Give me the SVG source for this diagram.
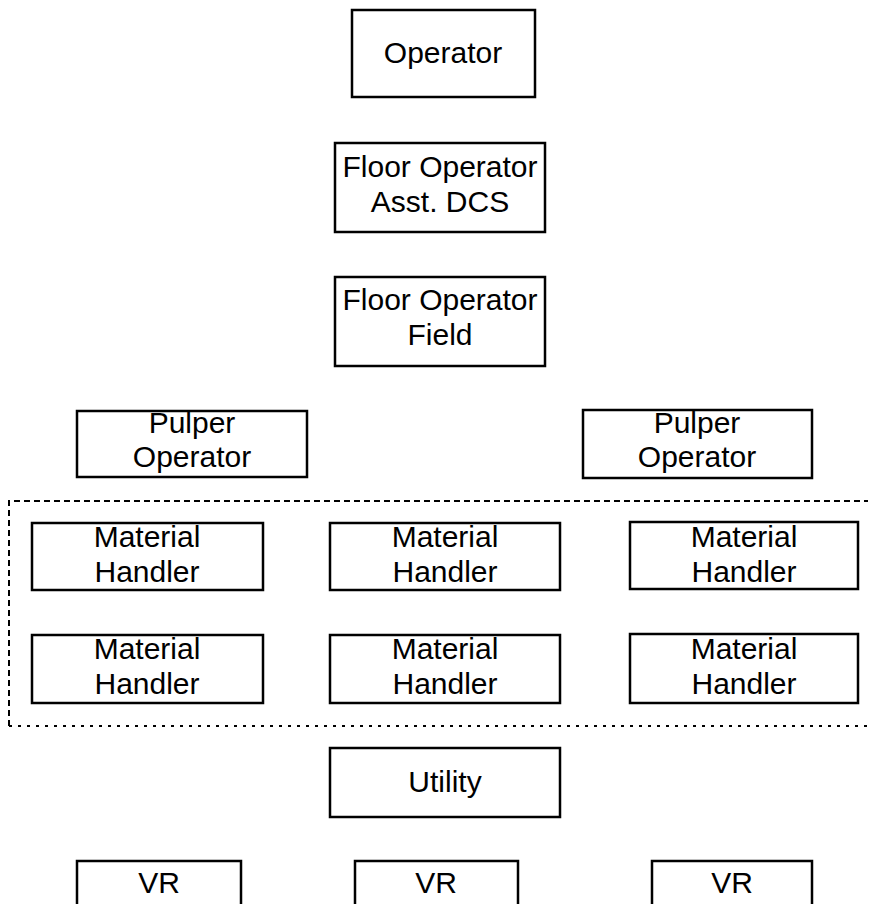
<svg xmlns="http://www.w3.org/2000/svg" width="870" height="904" viewBox="0 0 870 904">
<style>
.box{fill:#fff;stroke:#000;stroke-width:2.5}
.t{font-family:"Liberation Sans",Arial,sans-serif;font-size:30px;fill:#000;text-anchor:middle}
.dash{fill:none;stroke:#000;stroke-width:2;stroke-dasharray:6 4}
.dot{fill:none;stroke:#000;stroke-width:2;stroke-dasharray:3 6}
</style>
<rect width="870" height="904" fill="#fff"/>
<g id="group-area">
<path class="dash" d="M9 726 V501 H868"/>
<path class="dot" d="M9 726 H868"/>
</g>
<g id="connectors"></g>
<g id="n-operator"><rect class="box" x="352" y="10" width="183" height="87"/><text class="t" x="443" y="63">Operator</text></g>
<g id="n-floor-dcs"><rect class="box" x="335" y="143" width="210" height="89"/><text class="t" x="440" y="177">Floor Operator</text><text class="t" x="440" y="212">Asst. DCS</text></g>
<g id="n-floor-field"><rect class="box" x="335" y="277" width="210" height="89"/><text class="t" x="440" y="310">Floor Operator</text><text class="t" x="440" y="345">Field</text></g>
<g id="n-pulper-1"><rect class="box" x="77" y="411" width="230" height="66"/><text class="t" x="192" y="433">Pulper</text><text class="t" x="192" y="467">Operator</text></g>
<g id="n-pulper-2"><rect class="box" x="583" y="410" width="229" height="68"/><text class="t" x="697" y="433">Pulper</text><text class="t" x="697" y="467">Operator</text></g>
<g id="n-mh-1"><rect class="box" x="32" y="523" width="231" height="67"/><text class="t" x="147" y="547">Material</text><text class="t" x="147" y="582">Handler</text></g>
<g id="n-mh-2"><rect class="box" x="330" y="523" width="230" height="67"/><text class="t" x="445" y="547">Material</text><text class="t" x="445" y="582">Handler</text></g>
<g id="n-mh-3"><rect class="box" x="630" y="522" width="228" height="67"/><text class="t" x="744" y="547">Material</text><text class="t" x="744" y="582">Handler</text></g>
<g id="n-mh-4"><rect class="box" x="32" y="635" width="231" height="68"/><text class="t" x="147" y="659">Material</text><text class="t" x="147" y="694">Handler</text></g>
<g id="n-mh-5"><rect class="box" x="330" y="635" width="230" height="68"/><text class="t" x="445" y="659">Material</text><text class="t" x="445" y="694">Handler</text></g>
<g id="n-mh-6"><rect class="box" x="630" y="634" width="228" height="69"/><text class="t" x="744" y="659">Material</text><text class="t" x="744" y="694">Handler</text></g>
<g id="n-utility"><rect class="box" x="330" y="748" width="230" height="69"/><text class="t" x="445" y="792">Utility</text></g>
<g id="n-vr-1"><rect class="box" x="77" y="861" width="164" height="60"/><text class="t" x="159" y="893">VR</text></g>
<g id="n-vr-2"><rect class="box" x="355" y="861" width="163" height="60"/><text class="t" x="436" y="893">VR</text></g>
<g id="n-vr-3"><rect class="box" x="652" y="861" width="160" height="60"/><text class="t" x="732" y="893">VR</text></g>
</svg>
